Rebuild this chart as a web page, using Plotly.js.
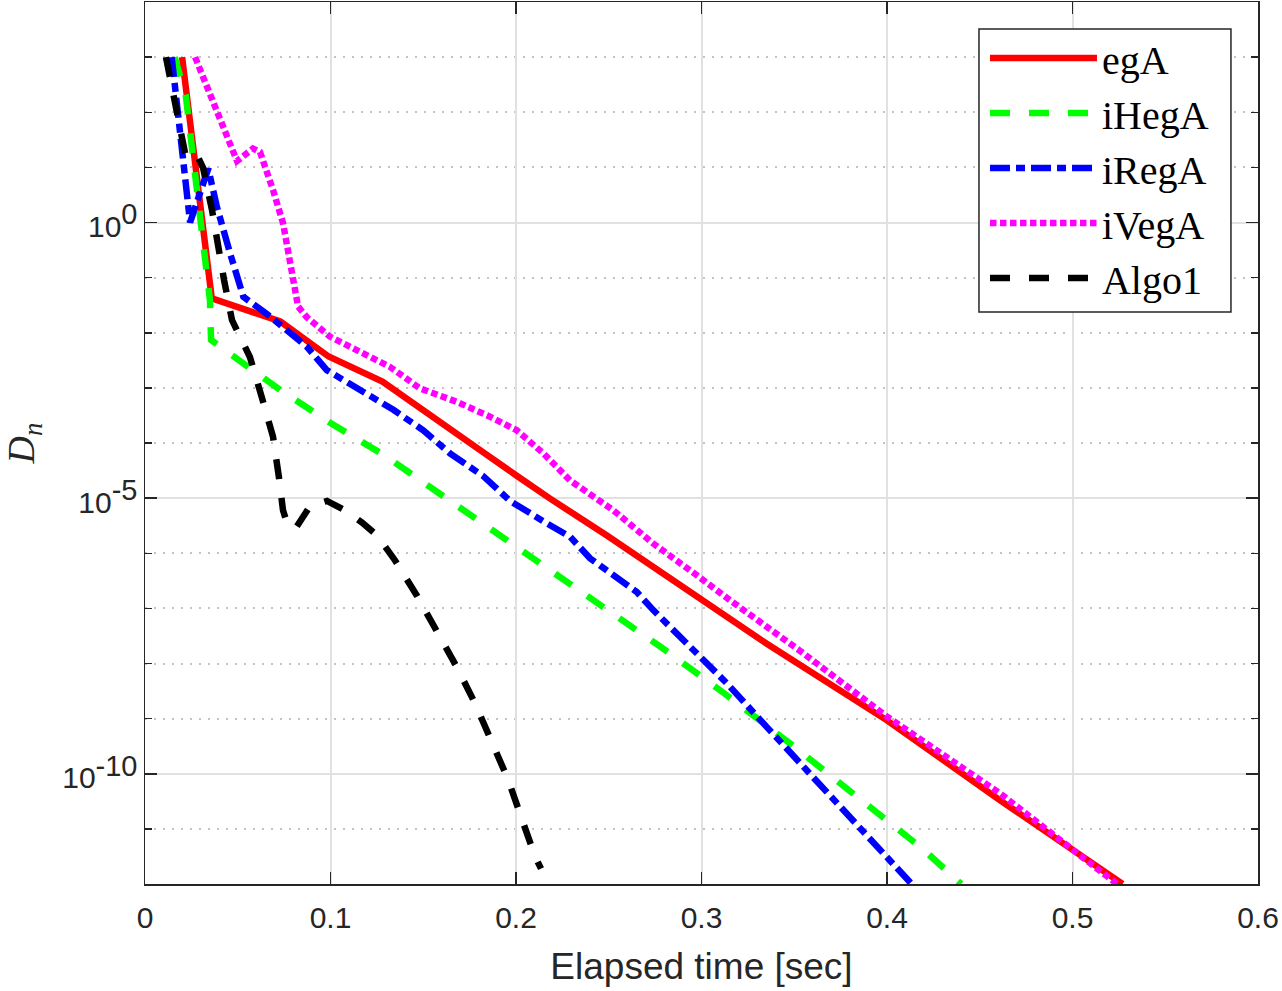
<!DOCTYPE html>
<html><head><meta charset="utf-8">
<script src="https://cdn.plot.ly/plotly-3.0.1.min.js"></script>
<style>html,body{margin:0;padding:0;background:#fff}#chart{width:1282px;height:991px}</style>
</head><body><div id="chart"></div>
<script>
// Elapsed time [sec] and D_n values
const egA_x = [0.020, 0.036, 0.073, 0.084, 0.099, 0.128, 0.147, 0.164, 0.182, 0.200, 0.218, 0.249, 0.274, 0.297, 0.335, 0.400, 0.461, 0.527];
const egA_y = [1e3, 4.2e-2, 1.6e-2, 8.7e-3, 3.7e-3, 1.3e-3, 4.6e-4, 1.7e-4, 6.9e-5, 2.6e-5, 1.0e-5, 2.1e-6, 5.6e-7, 1.6e-7, 2.3e-8, 9.3e-10, 3.3e-11, 1.0e-12];

const iHegA_x = [0.016, 0.022, 0.035, 0.0356, 0.073, 0.100, 0.129, 0.169, 0.206, 0.242, 0.278, 0.314, 0.350, 0.384, 0.419, 0.440];
const iHegA_y = [1e3, 2.0e2, 3.9e-2, 7.4e-3, 9.1e-4, 2.3e-4, 6.0e-5, 6.9e-6, 1.0e-6, 1.4e-7, 2.0e-8, 2.6e-9, 3.1e-10, 3.8e-11, 4.4e-12, 1.0e-12];

const iRegA_x = [0.0144, 0.0243, 0.0341, 0.0388, 0.0458, 0.053, 0.0656, 0.0764, 0.0872, 0.098, 0.1105, 0.1231, 0.1339, 0.150, 0.1644, 0.1824, 0.1968, 0.2165, 0.2291, 0.2399, 0.2525, 0.265, 0.274, 0.2866, 0.2992, 0.3136, 0.3351, 0.371, 0.3998, 0.4133];
const iRegA_y = [1e3, 1.0, 9.5, 1.9, 2.8e-1, 4.5e-2, 2.2e-2, 1.1e-2, 5.6e-3, 2.1e-3, 1.2e-3, 6.9e-4, 4.0e-4, 1.7e-4, 6.5e-5, 2.5e-5, 8.9e-6, 3.5e-6, 2.0e-6, 8.1e-7, 4.0e-7, 2.0e-7, 9.3e-8, 3.5e-8, 1.3e-8, 4.4e-9, 7.1e-10, 3.3e-11, 3.1e-12, 1.0e-12];

const iVegA_x = [0.027, 0.0496, 0.0582, 0.062, 0.069, 0.0744, 0.0825, 0.0873, 0.0997, 0.114, 0.1321, 0.1482, 0.168, 0.186, 0.2004, 0.2147, 0.2291, 0.2525, 0.274, 0.2974, 0.3154, 0.3531, 0.3998, 0.4609, 0.524];
const iVegA_y = [1e3, 13, 22, 19, 3.9, 0.98, 3.0e-2, 1.9e-2, 8.5e-3, 4.9e-3, 2.4e-3, 9.8e-4, 5.6e-4, 3.0e-4, 1.7e-4, 6.5e-5, 2.1e-5, 6.0e-6, 1.5e-6, 4.0e-7, 1.4e-7, 1.7e-8, 1.1e-9, 4.4e-11, 1.0e-12];

const Algo1_x = [0.0113, 0.0216, 0.027, 0.0313, 0.0361, 0.0394, 0.0426, 0.0469, 0.0566, 0.0631, 0.069, 0.0722, 0.0744, 0.0771, 0.0814, 0.0889, 0.0981, 0.1078, 0.117, 0.1251, 0.1348, 0.1466, 0.1574, 0.1682, 0.1779, 0.1871, 0.1957, 0.2032, 0.2102, 0.2135];
const Algo1_y = [1e3, 18, 20, 9.8, 1.7, 0.32, 9.1e-2, 1.7e-2, 3.6e-3, 6.5e-4, 1.3e-4, 2.4e-5, 6.0e-6, 3.1e-6, 2.9e-6, 7.1e-6, 8.9e-6, 6.0e-6, 3.6e-6, 2.1e-6, 7.4e-7, 1.7e-7, 4.0e-8, 8.5e-9, 1.9e-9, 3.9e-10, 7.9e-11, 1.5e-11, 3.2e-12, 1.9e-12];

const seriesNames = ['egA', 'iHegA', 'iRegA', 'iVegA', 'Algo1'];
const yTickVals = [1e-10, 1e-5, 1];
const supStyle = 'font-size:29px';
const yTickText = ['10<sup><span style="' + supStyle + '">-10</span></sup>', '10<sup><span style="' + supStyle + '">-5</span></sup>', '10<sup><span style="' + supStyle + '">0</span></sup>'];
const yMinorVals = [1e-11, 1e-9, 1e-8, 1e-7, 1e-6, 1e-4, 1e-3, 1e-2, 1e-1, 1e1, 1e2, 1e3];

const LW = 6.5;
const traces = [
  {x: egA_x, y: egA_y, name: seriesNames[0], mode: 'lines', line: {color: '#ff0000', width: LW}},
  {x: iHegA_x, y: iHegA_y, name: seriesNames[1], mode: 'lines', line: {color: '#00ff00', width: LW, dash: '20px,19px'}},
  {x: iRegA_x, y: iRegA_y, name: seriesNames[2], mode: 'lines', line: {color: '#0000ff', width: LW, dash: '20px,6px,9px,6px'}},
  {x: iVegA_x, y: iVegA_y, name: seriesNames[3], mode: 'lines', line: {color: '#ff00ff', width: LW, dash: '6.5px,3.5px'}},
  {x: Algo1_x, y: Algo1_y, name: seriesNames[4], mode: 'lines', line: {color: '#000000', width: LW, dash: '20px,19px'}}
];

const axisCol = '#262626';
const layout = {
  width: 1282, height: 991,
  margin: {l: 145, r: 24, t: 2, b: 107},
  paper_bgcolor: '#ffffff', plot_bgcolor: '#ffffff',
  showlegend: true,
  xaxis: {
    range: [0, 0.6], tick0: 0, dtick: 0.1,
    ticks: 'inside', ticklen: 12, tickwidth: 1.5, tickcolor: axisCol,
    showline: true, linecolor: axisCol, linewidth: 1.5, mirror: 'ticks',
    showgrid: true, gridcolor: '#e1e1e1', gridwidth: 2, zeroline: false,
    ticklabelstandoff: 6,
    tickfont: {family: 'Liberation Sans, Arial, sans-serif', size: 30, color: axisCol},
    title: {text: 'Elapsed time [sec]', font: {family: 'Liberation Sans, Arial, sans-serif', size: 37, color: axisCol}, standoff: 20}
  },
  yaxis: {
    type: 'log', range: [-12, 4],
    tickmode: 'array', tickvals: yTickVals, ticktext: yTickText,
    ticks: 'inside', ticklen: 12, tickwidth: 1.5, tickcolor: axisCol,
    showline: true, linecolor: axisCol, linewidth: 1.5, mirror: 'ticks',
    showgrid: true, gridcolor: '#e1e1e1', gridwidth: 2, zeroline: false,
    ticklabelshift: 4,
    minor: {tickmode: 'array', tickvals: yMinorVals, ticks: 'inside', ticklen: 7, tickwidth: 1.5, tickcolor: axisCol,
            showgrid: true, gridcolor: '#c4c4c4', gridwidth: 2, griddash: '2px,7px'},
    tickfont: {family: 'Liberation Sans, Arial, sans-serif', size: 30, color: axisCol},
    title: {text: '<i>D</i><sub><i>n</i></sub>', font: {family: 'Liberation Serif, serif', size: 38, color: axisCol}, standoff: 25}
  },
  shapes: [
    {type: 'rect', xref: 'paper', yref: 'paper', x0: 0.7493, x1: 0.9757, y0: 0.6485, y1: 0.9694,
     layer: 'above', fillcolor: '#ffffff', line: {color: axisCol, width: 1.5}}
  ],
  legend: {
    x: 0.7547, y: 0.9734, xanchor: 'left', yanchor: 'top',
    bgcolor: 'rgba(0,0,0,0)', borderwidth: 0,
    font: {family: 'Liberation Serif, serif', size: 40, color: '#000000'},
    itemwidth: 107, tracegroupgap: 0
  }
};
Plotly.newPlot('chart', traces, layout, {staticPlot: true});
</script></body></html>
